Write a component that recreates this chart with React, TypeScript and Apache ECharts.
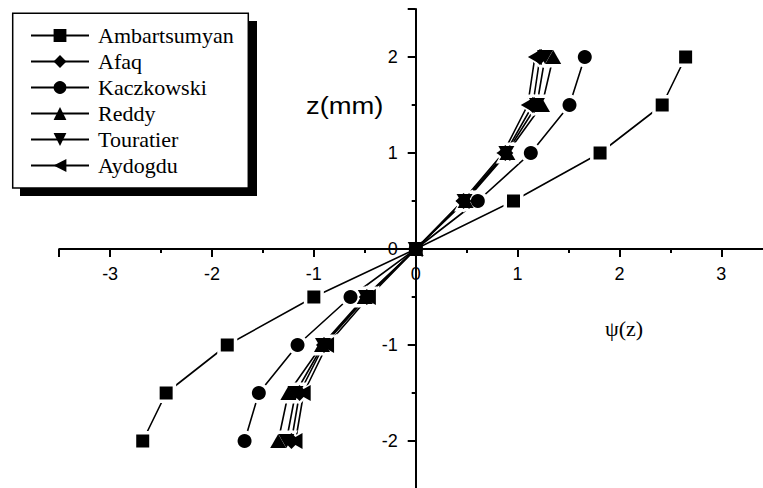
import React, { useEffect, useRef } from "react";
import * as echarts from "echarts";

const zValues = [-2, -1.5, -1, -0.5, 0, 0.5, 1, 1.5, 2];
const ambartsumyan = [-2.68, -2.45, -1.85, -1.0, 0, 0.96, 1.81, 2.42, 2.65];
const afaq = [-1.22, -1.14, -0.9, -0.48, 0, 0.47, 0.88, 1.15, 1.22];
const kaczkowski = [-1.68, -1.54, -1.16, -0.64, 0, 0.61, 1.13, 1.51, 1.66];
const reddy = [-1.35, -1.25, -0.92, -0.5, 0, 0.49, 0.9, 1.24, 1.35];
const touratier = [-1.27, -1.18, -0.91, -0.49, 0, 0.48, 0.89, 1.19, 1.27];
const aydogdu = [-1.18, -1.1, -0.87, -0.46, 0, 0.46, 0.86, 1.1, 1.17];

const seriesNames = ["Ambartsumyan", "Afaq", "Kaczkowski", "Reddy", "Touratier", "Aydogdu"];
const seriesValues = [ambartsumyan, afaq, kaczkowski, reddy, touratier, aydogdu];

const xLabel = "ψ(z)";
const yLabel = "z(mm)";

const symbols = [
  "rect",
  "diamond",
  "circle",
  "path://M5,0L10,10L0,10Z",
  "path://M0,0L10,0L5,10Z",
  "path://M0,5L10,0L10,10Z",
];
const symbolSizes: any[] = [13, 16, 14, [16, 14], [16, 14], [14, 16]];

function grow(s: any, d: number) {
  return Array.isArray(s) ? [s[0] + d, s[1] + d] : s + d;
}

const GRID_LEFT = 59.2;
const GRID_TOP = 9;
const GRID_W = 713;
const GRID_H = 480;
const X_MIN = -3.5;
const X_MAX = 3.5;
const Y_MIN = -2.5;
const Y_MAX = 2.5;

export default function App() {
  const ref = useRef<HTMLDivElement>(null);
  useEffect(() => {
    if (!ref.current) return;
    const chart = echarts.init(ref.current, null, { renderer: "svg" });
    const series: any[] = [];
    seriesNames.forEach((name, i) => {
      const data = zValues.map((z, k) => [seriesValues[i][k], z]);
      series.push({
        name,
        type: "line",
        data,
        symbol: symbols[i],
        symbolSize: symbolSizes[i],
        showSymbol: false,
        itemStyle: { color: "#000" },
        lineStyle: { color: "#000", width: 1.6 },
        z: 1,
        silent: true,
      });
      series.push({
        name: "_halo_" + name,
        type: "scatter",
        data: data.filter((p) => !(p[0] === 0 && p[1] === 0)),
        symbol: symbols[i],
        symbolSize: grow(symbolSizes[i], 7),
        itemStyle: { color: "#fff", opacity: 1 },
        z: 2,
        silent: true,
      });
      series.push({
        name: "_mark_" + name,
        type: "scatter",
        data,
        symbol: symbols[i],
        symbolSize: symbolSizes[i],
        itemStyle: { color: "#000", opacity: 1 },
        z: 3,
        silent: true,
      });
    });

    // pixel positions of the zero lines inside the grid
    const zeroX = GRID_LEFT + ((0 - X_MIN) / (X_MAX - X_MIN)) * GRID_W;
    const zeroY = GRID_TOP + ((Y_MAX - 0) / (Y_MAX - Y_MIN)) * GRID_H;

    chart.setOption({
      animation: false,
      backgroundColor: "#fff",
      grid: {
        left: GRID_LEFT,
        top: GRID_TOP,
        width: GRID_W,
        height: GRID_H,
        containLabel: false,
        outerBoundsMode: "none",
      },
      xAxis: {
        type: "value",
        min: X_MIN,
        max: X_MAX,
        splitNumber: 7,
        position: "bottom",
        offset: -(GRID_TOP + GRID_H - zeroY),
        axisLine: { onZero: false, lineStyle: { color: "#000", width: 2 } },
        axisTick: { show: true, length: 8, lineStyle: { color: "#000", width: 2 } },
        minorTick: { show: true, splitNumber: 2, length: 4, lineStyle: { color: "#000", width: 2 } },
        splitLine: { show: false },
        axisLabel: {
          margin: 16,
          color: "#000",
          fontFamily: "Liberation Sans",
          fontSize: 18,
          formatter: (v: number) => (Number.isInteger(v) ? String(v) : ""),
        },
      },
      yAxis: {
        type: "value",
        min: Y_MIN,
        max: Y_MAX,
        splitNumber: 5,
        position: "left",
        offset: -(zeroX - GRID_LEFT),
        axisLine: { onZero: false, lineStyle: { color: "#000", width: 2 } },
        axisTick: { show: true, length: 8, lineStyle: { color: "#000", width: 2 } },
        minorTick: { show: true, splitNumber: 2, length: 4, lineStyle: { color: "#000", width: 2 } },
        splitLine: { show: false },
        axisLabel: {
          margin: 18,
          color: "#000",
          fontFamily: "Liberation Sans",
          fontSize: 18,
          formatter: (v: number) => (Number.isInteger(v) ? String(v) : ""),
        },
      },
      legend: {
        data: seriesNames,
        orient: "vertical",
        left: 30,
        top: 24.5,
        padding: 0,
        itemWidth: 58,
        itemHeight: 16,
        itemGap: 4,
        selectedMode: false,
        textStyle: {
          color: "#000",
          fontFamily: "Liberation Serif",
          fontSize: 22,
          lineHeight: 21,
          padding: [0, 0, 0, 4],
        },
      },
      graphic: [
        {
          type: "rect",
          shape: { x: 20, y: 21, width: 237, height: 175 },
          style: { fill: "#000" },
          z: 0,
        },
        {
          type: "rect",
          shape: { x: 12.7, y: 13.3, width: 235.6, height: 174.7 },
          style: { fill: "#fff", stroke: "#000", lineWidth: 1.5 },
          z: 1,
        },
        {
          type: "text",
          x: 306,
          y: 94,
          scaleX: 1.14,
          style: { text: yLabel, fill: "#000", font: "24px 'Liberation Sans'" },
        },
        {
          type: "text",
          x: 605,
          y: 317,
          style: { text: xLabel, fill: "#000", font: "22px 'Liberation Serif'" },
        },
      ],
      series,
    });
    return () => chart.dispose();
  }, []);
  return (
    <div
      ref={ref}
      style={{ position: "fixed", left: 0, top: 0, width: 763, height: 488 }}
    />
  );
}
